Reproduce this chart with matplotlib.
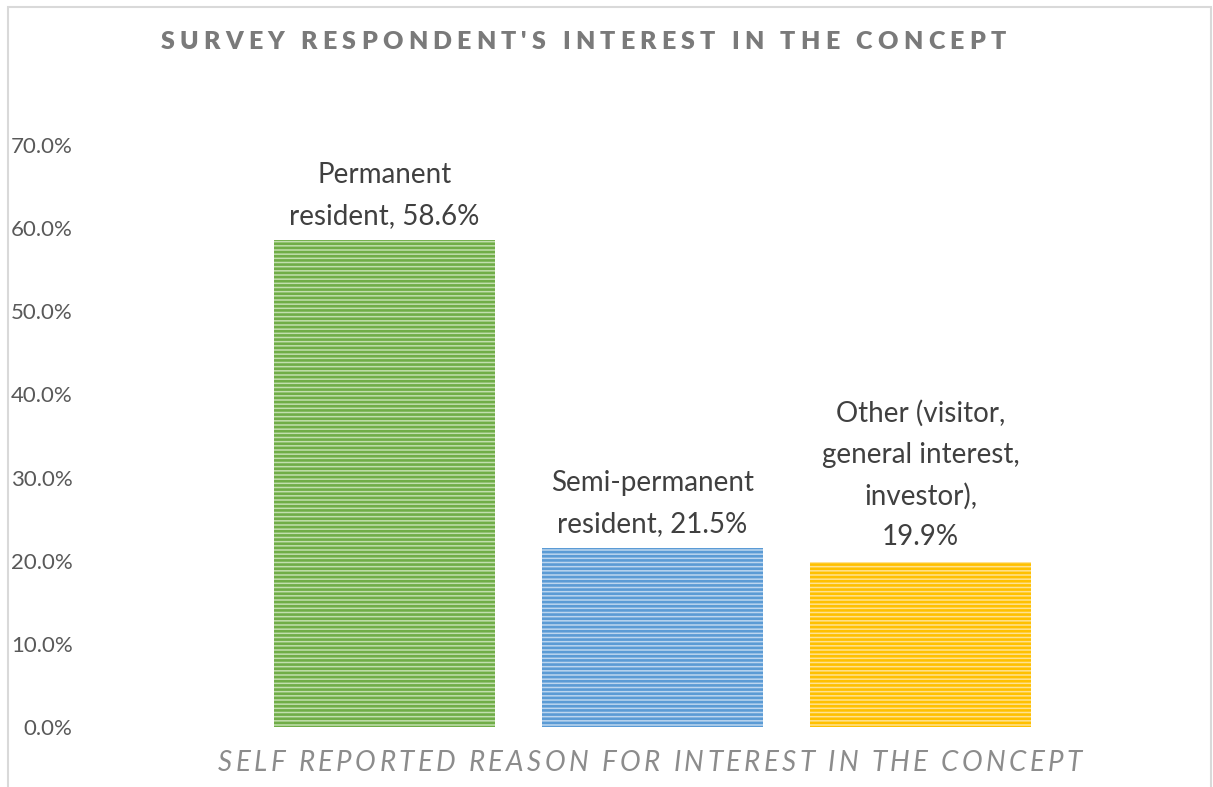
import matplotlib
matplotlib.use('Agg')
import matplotlib.pyplot as plt
from matplotlib.font_manager import FontProperties
from matplotlib.patches import Rectangle
from matplotlib.ticker import PercentFormatter

# survey breakdown
categories = ['Permanent resident', 'Semi-permanent resident',
              'Other (visitor, general interest, investor)']
label_lines = ['Permanent\nresident, {}',
               'Semi-permanent\nresident, {}',
               'Other (visitor,\ngeneral interest,\ninvestor),\n{}']
shares = [0.586, 0.215, 0.199]
stripe_colors = ['#70AD47', '#5B9BD5', '#FFC000']
face_colors = ['#c2dfae', '#bcd6ef', '#ffe291']

title = "SURVEY RESPONDENT'S INTEREST IN THE CONCEPT"
xlabel = 'SELF REPORTED REASON FOR INTEREST IN THE CONCEPT'

W, H = 1213, 787
FONT = 'Lato'
plt.rcParams['font.family'] = [FONT, 'DejaVu Sans']
plt.rcParams['hatch.linewidth'] = 1.9

fig = plt.figure(figsize=(W / 100, H / 100), dpi=100)
fig.patch.set_facecolor('white')

# chart frame
fig.patches.append(Rectangle((8 / W, -0.05), (1211 - 8) / W, (H - 7) / H + 0.05,
                             transform=fig.transFigure, fill=False,
                             edgecolor='#d9d9d9', linewidth=1.5))

ax = fig.add_axes([85 / W, (H - 727) / H, (1190 - 85) / W, (727 - 145) / H])
x = list(range(len(shares)))
for i, v in enumerate(shares):
    ax.bar(x[i], v, width=0.825, color=face_colors[i], edgecolor=stripe_colors[i],
           linewidth=0, hatch='----')

for i, v in enumerate(shares):
    ax.annotate(label_lines[i].format(f'{v * 100:.1f}%'), (x[i], v),
                xytext=(0, 8), textcoords='offset points', ha='center', va='bottom',
                fontsize=20, color='#404040', linespacing=1.7)

ax.set_xlim(-1.1175, 3.0056)
ax.set_ylim(0, 0.70)
ax.set_yticks([i / 10 for i in range(8)])
ax.yaxis.set_major_formatter(PercentFormatter(xmax=1, decimals=1))
ax.tick_params(axis='y', length=0, pad=9, labelsize=16, labelcolor='#595959')
ax.set_xticks([])
for s in ax.spines.values():
    s.set_visible(False)

fig.canvas.draw()
renderer = fig.canvas.get_renderer()


def tracked_text(s, cx, baseline, width, fp, color):
    # spread characters evenly so the string spans the given pixel width
    def tw(t):
        return renderer.get_text_width_height_descent(t, fp, ismath=False)[0]
    track = (width - tw(s)) / (len(s) - 1)
    x0 = cx - width / 2
    for i, ch in enumerate(s):
        xp = x0 + tw(s[:i]) + i * track
        fig.text(xp / W, (H - baseline) / H, ch, fontproperties=fp, color=color,
                 ha='left', va='baseline')


tracked_text(title, 583, 49, 845,
             FontProperties(family=FONT, weight='heavy', size=18), '#7a7a7a')
tracked_text(xlabel, 650, 771, 864,
             FontProperties(family=FONT, style='italic', size=20), '#8c8c8c')

fig.savefig('out.png', dpi=100)
